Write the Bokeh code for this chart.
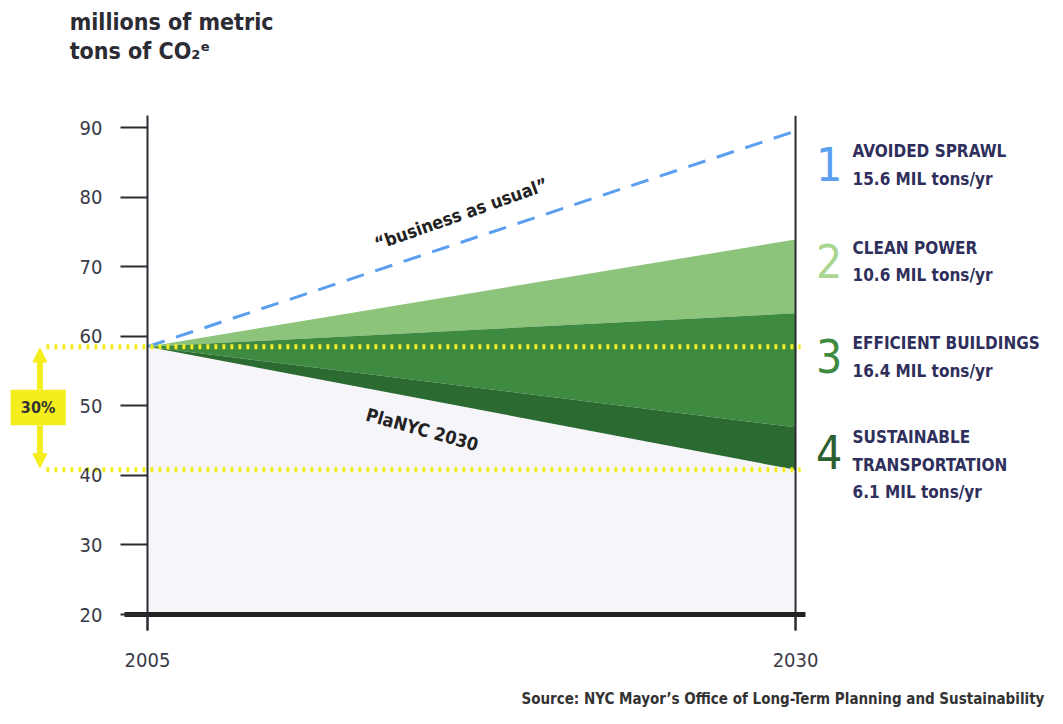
from bokeh.plotting import figure
from bokeh.models import Range1d, LinearAxis, FixedTicker, Arrow, NormalHead
from bokeh.core.properties import value
from bokeh.embed import file_html
from bokeh.resources import INLINE

# ---------------- data ----------------
years = [2005, 2030]
bau = [58.5, 89.5]                      # "business as usual"
baseline_2005 = 58.5
wedge_names = ["AVOIDED SPRAWL", "CLEAN POWER", "EFFICIENT BUILDINGS", "SUSTAINABLE\nTRANSPORTATION"]
wedge_values = [15.6, 10.6, 16.4, 6.1]  # MIL tons/yr reduction by 2030
y_ticks = [20, 30, 40, 50, 60, 70, 80, 90]
x_ticks = [2005, 2030]

# ---------------- styles ----------------
FONT = "DejaVu Sans Condensed"
wedge_colors = ["#5b9ff0", "#8dc47b", "#3f8a41", "#2b6a30"]
num_colors = ["#5b9ff0", "#a9d793", "#3f8a41", "#2d5e2f"]
YELLOW = "#f4ee1e"
DARK = "#2b2b33"
NAVY = "#2f2f5c"

p = figure(width=1047, height=708, output_backend="svg", toolbar_location=None,
           x_range=Range1d(1999.33, 2039.72), y_range=Range1d(6.49, 108.26),
           min_border=0, x_axis_location=None, y_axis_location=None)
p.outline_line_color = None
p.xgrid.visible = False
p.ygrid.visible = False
p.background_fill_color = "white"

# levels of each wedge at 2030
levels = [bau[1]]
for v in wedge_values:
    levels.append(levels[-1] - v)
planyc_end = levels[-1]

# faint area under PlaNYC line
p.varea(x=years, y1=[y_ticks[0], y_ticks[0]], y2=[baseline_2005, planyc_end],
        fill_color="#f6f6fa", fill_alpha=1)

# wedges 2..4 (sprawl region left white)
for i in range(1, 4):
    p.varea(x=years, y1=[baseline_2005, levels[i + 1]], y2=[baseline_2005, levels[i]],
            fill_color=wedge_colors[i])

# business as usual dashed line
p.line(years, bau, line_color="#5b9ff0", line_width=3, line_dash="18 12")

# yellow dotted lines (start and target level)
for lv in [baseline_2005, planyc_end]:
    p.line([2001.1, 2030.2], [lv, lv], line_color=YELLOW, line_width=5, line_dash="3 5")

# axes
yax = LinearAxis(fixed_location=x_ticks[0], ticker=FixedTicker(ticks=y_ticks),
                 bounds=(17.7, 91.7))
yax.axis_line_width = 2
yax.axis_line_color = DARK
yax.major_tick_line_width = 2
yax.major_tick_line_color = DARK
yax.major_tick_out = 27
yax.major_tick_in = 0
yax.minor_tick_line_color = None
yax.major_label_standoff = 18
yax.major_label_text_font = FONT
yax.major_label_text_font_size = "20px"
yax.major_label_text_color = "#3a3a48"
p.add_layout(yax, "left")

xax = LinearAxis(fixed_location=y_ticks[0], ticker=FixedTicker(ticks=x_ticks),
                 bounds=(2004.1, 2030.4))
xax.axis_line_width = 5
xax.axis_line_color = "#222222"
xax.major_tick_line_width = 2
xax.major_tick_line_color = DARK
xax.major_tick_out = 16
xax.major_tick_in = 0
xax.minor_tick_line_color = None
xax.major_label_standoff = 22
xax.major_label_text_font = FONT
xax.major_label_text_font_size = "20px"
xax.major_label_text_color = "#3a3a48"
p.add_layout(xax, "below")

# right frame line at 2030
p.segment(x0=[x_ticks[1]], y0=[17.7], x1=[x_ticks[1]], y1=[91.7], line_color=DARK, line_width=2)

# in-chart labels
p.text(x=[2017.1], y=[77.6], text=['\u201cbusiness as usual\u201d'], angle=0.34,
       text_font=value(FONT), text_font_style="bold", text_font_size="18px",
       text_color="#222222", text_align="center", text_baseline="middle")
p.text(x=[2015.6], y=[46.6], text=["PlaNYC 2030"], angle=-0.27,
       text_font=value(FONT), text_font_style="bold", text_font_size="18px",
       text_color="#222222", text_align="center", text_baseline="middle")

# 30% indicator
box_bottom, box_top = 47.2, 52.3
head = dict(size=14, fill_color=YELLOW, line_color=YELLOW)
p.add_layout(Arrow(end=NormalHead(**head), x_start=2000.85, y_start=box_bottom,
                   x_end=2000.85, y_end=planyc_end + 0.3, line_color=YELLOW, line_width=6))
p.add_layout(Arrow(end=NormalHead(**head), x_start=2000.85, y_start=box_top,
                   x_end=2000.85, y_end=baseline_2005 - 0.2, line_color=YELLOW, line_width=6))
p.quad(left=[1999.72], right=[2001.85], bottom=[box_bottom], top=[box_top],
       fill_color=YELLOW, line_color=None)
pct = round((baseline_2005 - planyc_end) / baseline_2005 * 100)
p.text(x=[2000.78], y=[49.75], text=[f"{pct}%"], text_font=value(FONT),
       text_font_style="bold", text_font_size="16px", text_color="#333333",
       text_align="center", text_baseline="middle")

# legend on the right
num_y = [84.7, 70.8, 57.1, 43.4]
for i, (name, val) in enumerate(zip(wedge_names, wedge_values)):
    p.text(x=[2031.3], y=[num_y[i]], text=[str(i + 1)], text_font=value(FONT),
           text_font_size="46px", text_color=num_colors[i],
           text_align="center", text_baseline="middle")
    lines = name.split("\n") + [f"{val} MIL tons/yr"]
    top = num_y[i] + 1.9 if len(lines) == 2 else num_y[i] + 2.1
    for j, ln in enumerate(lines):
        p.text(x=[2032.2], y=[top - j * 3.95], text=[ln], text_font=value(FONT),
               text_font_style="bold", text_font_size="17px", text_color=NAVY,
               text_align="left", text_baseline="middle")

# title (y-axis unit)
p.text(x=[2002.0], y=[105.1], text=["millions of metric"], text_font=value(FONT),
       text_font_style="bold", text_font_size="23px", text_color=DARK,
       text_align="left", text_baseline="middle")
p.text(x=[2002.0], y=[101.0], text=["tons of CO\u2082\u1d49"], text_font=value(FONT),
       text_font_style="bold", text_font_size="23px", text_color=DARK,
       text_align="left", text_baseline="middle")

# source
p.text(x=[2039.6], y=[7.9], text=["Source: NYC Mayor\u2019s Office of Long-Term Planning and Sustainability"],
       text_font=value(FONT), text_font_style="bold", text_font_size="15px",
       text_color="#333333", text_align="right", text_baseline="middle")

open("out.html", "w").write(file_html(p, INLINE))
